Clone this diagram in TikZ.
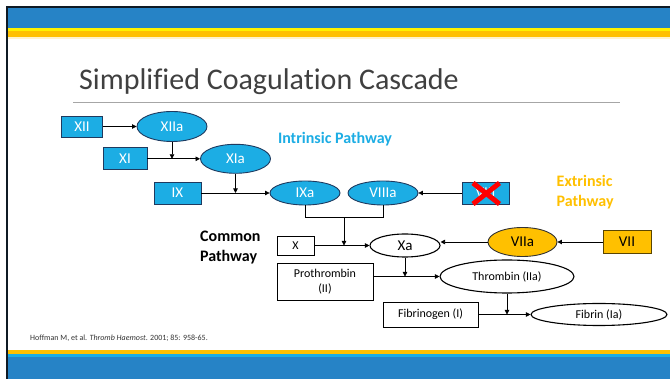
\documentclass[tikz,border=0pt]{standalone}
\usepackage{fontspec}
\setmainfont{Carlito}[Ligatures=NoCommon]
\usetikzlibrary{shapes.geometric,arrows.meta,calc}
\definecolor{bandblue}{HTML}{2683C6}
\definecolor{nodeblue}{HTML}{1CADE4}
\definecolor{gold}{HTML}{FFC000}
\definecolor{nodeedge}{HTML}{1F3A5F}
\definecolor{goldedge}{HTML}{5A4500}
\definecolor{titlegray}{HTML}{404040}
\definecolor{rulegray}{HTML}{A6A6A6}
\definecolor{frame}{HTML}{0F1A24}
\begin{document}
\begin{tikzpicture}[x=1pt,y=-1pt,
  bluebox/.style={rectangle, draw=nodeedge, fill=nodeblue, text=white, line width=0.9pt, inner sep=0pt, font=\fontsize{15}{15}\selectfont},
  blueell/.style={ellipse, draw=nodeedge, fill=nodeblue, text=white, line width=0.9pt, inner sep=0pt, font=\fontsize{15}{15}\selectfont},
  goldbox/.style={rectangle, draw=goldedge, fill=gold, text=black, line width=0.9pt, inner sep=0pt, font=\fontsize{15}{15}\selectfont},
  goldell/.style={ellipse, draw=black!80, fill=gold, text=black, line width=0.9pt, inner sep=0pt, font=\fontsize{15}{15}\selectfont},
  whitebox/.style={rectangle, draw=black, fill=white, line width=0.9pt, inner sep=0pt, align=center, font=\fontsize{12}{15}\selectfont},
  whiteell/.style={ellipse, draw=black, fill=white, line width=1.1pt, inner sep=0pt, font=\fontsize{12}{14}\selectfont},
  arr/.style={-{Triangle[length=4.5pt,width=4.5pt]}, line width=0.8pt, black},
  link/.style={line width=0.8pt, black},
  pathlabel/.style={font=\fontsize{16}{20}\selectfont\bfseries, align=left, inner sep=0pt}
]
\useasboundingbox (0,0) rectangle (670,379);
\fill[white] (0,0) rectangle (670,379);
% frame and bands
\fill[bandblue] (8,8) rectangle (670,28);
\fill[yellow] (8,28) rectangle (670,31);
\fill[gold] (8,31) rectangle (670,37.5);
\fill[gold!20] (8,37.5) rectangle (670,39);
\fill[gold] (8,350) rectangle (670,354);
\fill[nodeblue] (8,354) rectangle (670,357.5);
\fill[bandblue] (8,357.5) rectangle (670,379);
\draw[frame, line width=2pt] (7,379) -- (7,7) -- (670,7);

% title
\node[anchor=base west, inner sep=0pt, text=titlegray, font=\fontsize{30}{30}\selectfont] (title) at (79,90) {Simplified Coagulation Cascade};
\draw[rulegray, line width=1pt] (73,102.5) -- (620,102.5);

% intrinsic
\node[bluebox, minimum width=41, minimum height=21] (XII) at (82,126.5) {XII};
\node[blueell, minimum width=70, minimum height=30] (XIIa) at (172,126.5) {XIIa};
\node[bluebox, minimum width=44, minimum height=22] (XI) at (125,158.8) {XI};
\node[blueell, minimum width=70, minimum height=29] (XIa) at (235.5,158.8) {XIa};
\node[bluebox, minimum width=47, minimum height=22] (IX) at (177.5,193) {IX};
\node[blueell, minimum width=70, minimum height=24] (IXa) at (305,193) {IXa};
\node[blueell, minimum width=70, minimum height=24] (VIIIa) at (383,193) {VIIIa};
\node[bluebox, minimum width=47, minimum height=22] (VIII) at (485.5,193) {VIII};
\draw[red, line width=5pt] ($(VIII.center)+(-12.5,-10)$) -- ($(VIII.center)+(14,11)$);
\draw[red, line width=5pt] ($(VIII.center)+(14,-10)$) -- ($(VIII.center)+(-12.5,11)$);

\node[pathlabel, text=nodeblue, anchor=base] (intr) at (335,143.5) {Intrinsic Pathway};

\draw[arr] (XII.east) -- (XIIa.west);
\draw[arr] (XI.east) -- (XIa.west);
\draw[arr] (XIIa.south) -- (XIIa.south |- XI.east);
\draw[arr] (IX.east) -- (IXa.west);
\draw[arr] (XIa.south) -- (XIa.south |- IX.east);
\draw[arr] (VIII.west) -- (VIIIa.east);

% common
\node[whitebox, minimum width=37, minimum height=19] (X) at (295.5,245.5) {X};
\node[whiteell, minimum width=70, minimum height=23, font=\fontsize{15}{15}\selectfont] (Xa) at (405,245.5) {Xa};
\node[goldell, minimum width=69, minimum height=29] (VIIa) at (522.5,242) {VIIa};
\node[goldbox, minimum width=48, minimum height=23] (VII) at (627,242) {VII};
\node[pathlabel, text=gold, anchor=base west] (extr) at (556.5,207) {Extrinsic\\Pathway};
\node[pathlabel, text=black, anchor=base west] (comm) at (200,262) {Common\\Pathway};

\coordinate (brk) at ($(IXa.south)!0.5!(VIIIa.south)+(0,12)$);
\draw[link] (IXa.south) |- (brk) -| (VIIIa.south);
\draw[arr] (brk) -- (brk |- X.east);
\draw[arr] (X.east) -- (Xa.west);
\draw[arr] (VII.west) -- (VIIa.east);
\draw[arr] (VIIa.west) -- (VIIa.west -| Xa.east);

\node[whitebox, minimum width=96, minimum height=37] (Pro) at (325,281.5) {Prothrombin\\(II)};
\node[whiteell, minimum width=134, minimum height=33] (Thr) at (507,276.5) {Thrombin (IIa)};
\node[whitebox, minimum width=95, minimum height=25] (Fbg) at (430.5,314.5) {Fibrinogen (I)};
\node[whiteell, minimum width=136, minimum height=22] (Fib) at (599,314.5) {Fibrin (Ia)};

\draw[arr] (Pro.east |- Thr.west) -- (Thr.west);
\draw[arr] (Xa.south) -- (Xa.south |- Thr.west);
\draw[arr] (Fbg.east) -- (Fib.west);
\draw[arr] (Thr.south) -- (Thr.south |- Fbg.east);

% citation
\node[anchor=base west, inner sep=0pt, text=black!80, font=\fontsize{8}{9}\selectfont] (cite) at (30,340.5) {Hoffman M, et al. \textit{Thromb Haemost}. 2001; 85: 958-65.};
\end{tikzpicture}
\end{document}
